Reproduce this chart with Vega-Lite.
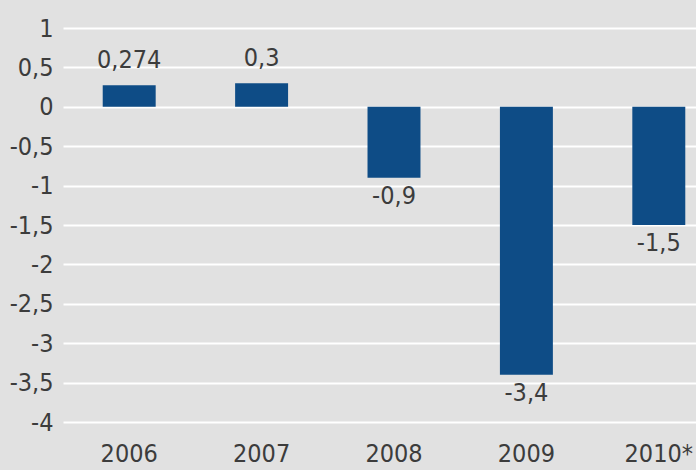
{
  "$schema": "https://vega.github.io/schema/vega-lite/v6.json",
  "autosize": "none",
  "padding": {"left": 63, "top": 28, "right": 0, "bottom": 48},
  "width": 662,
  "height": 394,
  "background": "#e1e1e1",
  "config": {
    "view": {"stroke": null, "fill": "#e1e1e1"},
    "locale": {"number": {"decimal": ",", "thousands": ".", "grouping": [3], "currency": ["", " €"], "minus": "-"}},
    "font": "DejaVu Sans Condensed, DejaVu Sans, sans-serif"
  },
  "data": {"values": [
    {"year": "2006", "value": 0.274, "label": "0,274"},
    {"year": "2007", "value": 0.3, "label": "0,3"},
    {"year": "2008", "value": -0.9, "label": "-0,9"},
    {"year": "2009", "value": -3.4, "label": "-3,4"},
    {"year": "2010*", "value": -1.5, "label": "-1,5"}
  ]},
  "encoding": {
    "x": {"field": "year", "type": "nominal", "sort": null, "title": null,
      "scale": {"paddingInner": 0.6, "paddingOuter": 0.3},
      "axis": {"labelAngle": 0, "labelFontSize": 25, "labelColor": "#3c3c3c", "labelPadding": 19, "ticks": false, "domain": false, "grid": false}},
    "y": {"field": "value", "type": "quantitative", "title": null,
      "scale": {"domain": [-4, 1], "nice": false},
      "axis": {"values": [-4, -3.5, -3, -2.5, -2, -1.5, -1, -0.5, 0, 0.5, 1], "format": "~g", "labelFontSize": 25, "labelColor": "#3c3c3c", "labelPadding": 10, "ticks": false, "domain": false, "gridColor": "#ffffff", "gridWidth": 2, "gridOpacity": 1}}
  },
  "layer": [
    {"mark": {"type": "bar", "color": "#0e4c86"}},
    {"transform": [{"filter": "datum.value >= 0"}],
     "mark": {"type": "text", "baseline": "bottom", "dy": -12, "fontSize": 25, "color": "#3c3c3c"},
     "encoding": {"text": {"field": "label"}}},
    {"transform": [{"filter": "datum.value < 0"}],
     "mark": {"type": "text", "baseline": "top", "dy": 6, "fontSize": 25, "color": "#3c3c3c"},
     "encoding": {"text": {"field": "label"}}}
  ]
}
